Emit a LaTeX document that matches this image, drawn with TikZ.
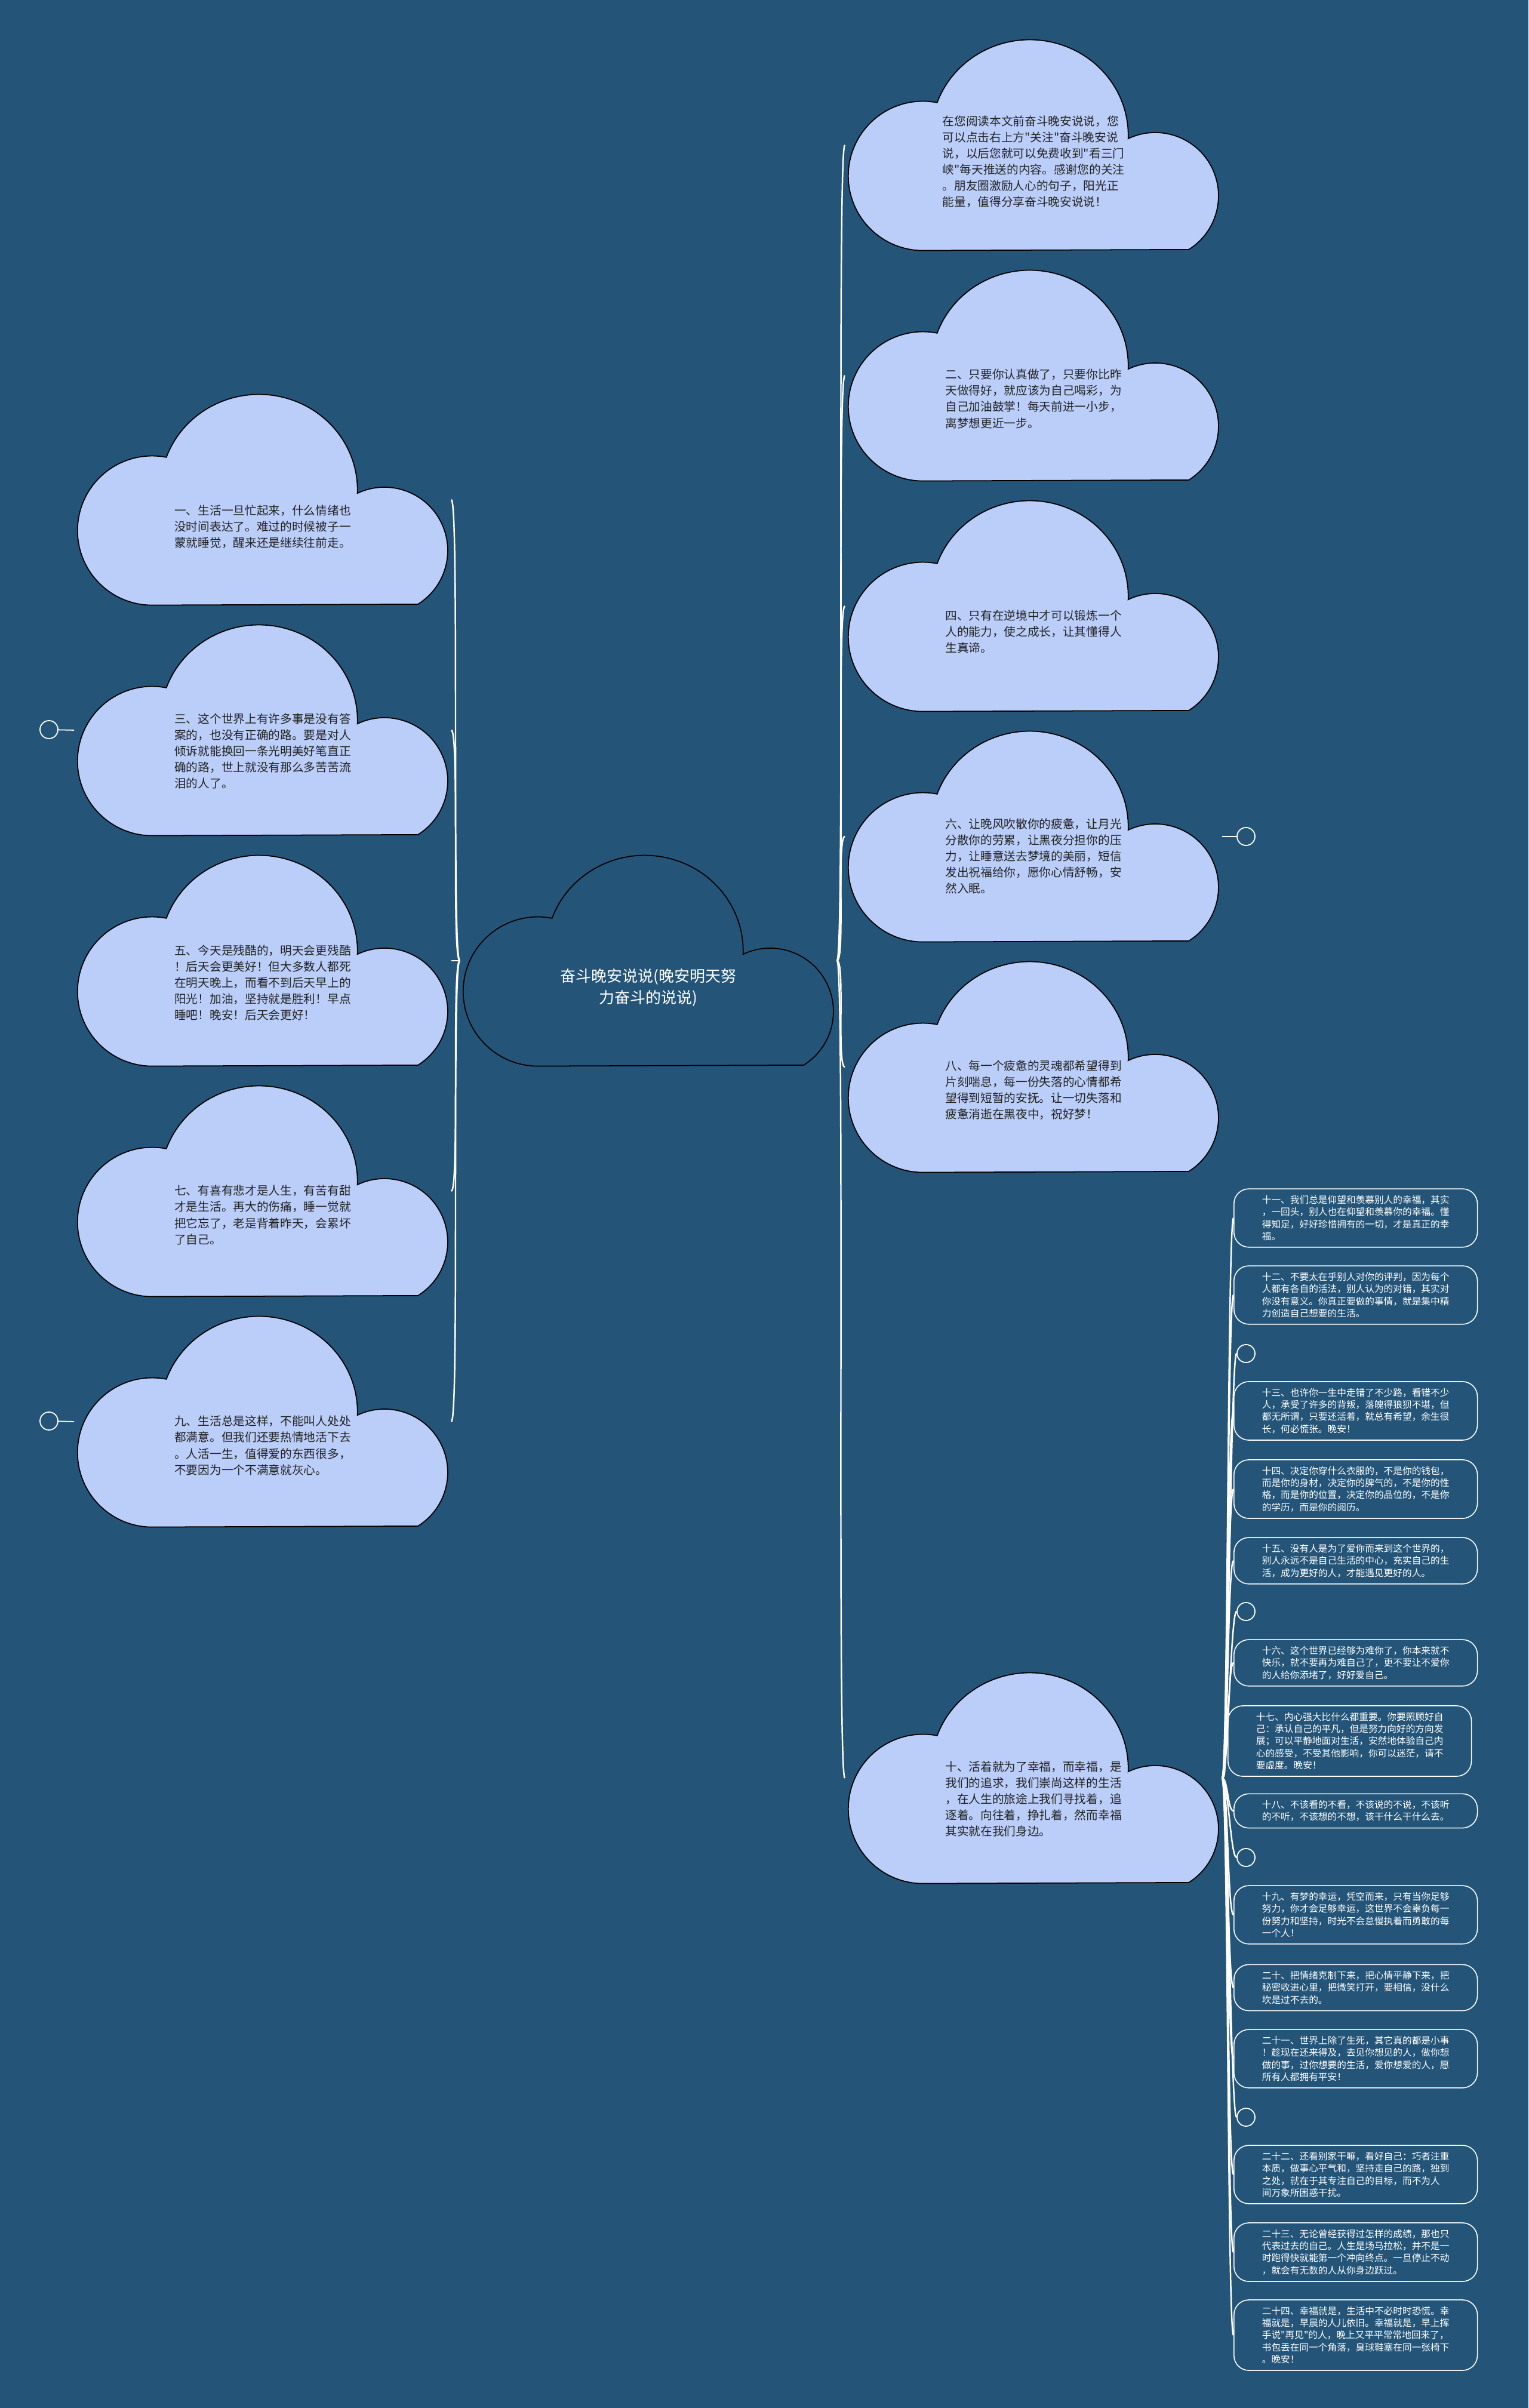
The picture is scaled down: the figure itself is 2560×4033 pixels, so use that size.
\documentclass[tikz,border=0pt]{standalone}
\usepackage{fontspec}
\setmainfont{Noto Sans CJK SC}[Ligatures=TeXOff]
\usetikzlibrary{positioning}
\definecolor{pageblue}{RGB}{36,85,121}
\definecolor{cloudblue}{RGB}{187,206,250}
\definecolor{inkgray}{RGB}{34,34,34}
\tikzset{
  cloudbox/.style={minimum width=6.3cm,minimum height=3.63cm,inner sep=0pt,
    path picture={\filldraw[#1,line width=0.5pt]
      ([shift={(130,5)}]path picture bounding box.south west)
      arc[start angle=270,end angle=79,radius=125]
      arc[start angle=160,end angle=-2,x radius=165,y radius=160]
      arc[start angle=115.3,end angle=-58,radius=106] -- cycle;}},
  cloudbox/.default={fill=cloudblue,draw=black},
  cloudtext/.style={align=left,text=inkgray,inner sep=0pt,
    font=\fontsize{5.6pt}{7.7pt}\selectfont},
  leaf/.style={draw=white,line width=0.45pt,rounded corners=0.25cm,text=white,
    align=left,inner xsep=0.47cm,inner ysep=0.11cm,anchor=west,
    font=\fontsize{4.46pt}{5.8pt}\selectfont},
  fold/.style={circle,draw=white,line width=0.5pt,minimum size=0.3cm,inner sep=0pt},
  link/.style={draw=white,line width=0.7pt},
  stub/.style={draw=white,line width=0.5pt},
}
\begin{document}
\begin{tikzpicture}[x=0.01cm,y=0.01cm]
  \fill[pageblue] (0,0) rectangle (2560,4033);
  \useasboundingbox (0,0) rectangle (2560,4033);
  % centre cloud
  \node[cloudbox={fill=pageblue,draw=black}] (root) at (1086,2424) {};
  \node[cloudtext,align=center,text=white,font=\fontsize{7.4pt}{10.2pt}\selectfont] (roottext)
    at ([yshift=-0.45cm]root.center) {奋斗晚安说说(晚安明天努\\力奋斗的说说)};
  % right clouds
  \node[cloudbox] (r1) at (1731,3790) {};
  \node[cloudtext] (r1t) at ([yshift=-0.28cm]r1.center) {在您阅读本文前奋斗晚安说说，您\\可以点击右上方"关注"奋斗晚安说\\说，以后您就可以免费收到"看三门\\峡"每天推送的内容。感谢您的关注\\。朋友圈激励人心的句子，阳光正\\能量，值得分享奋斗晚安说说！};
  \node[cloudbox] (r2) at (1731,3404) {};
  \node[cloudtext] (r2t) at ([yshift=-0.39cm]r2.center) {二、只要你认真做了，只要你比昨\\天做得好，就应该为自己喝彩，为\\自己加油鼓掌！每天前进一小步，\\离梦想更近一步。};
  \node[cloudbox] (r3) at (1731,3018) {};
  \node[cloudtext] (r3t) at ([yshift=-0.43cm]r3.center) {四、只有在逆境中才可以锻炼一个\\人的能力，使之成长，让其懂得人\\生真谛。};
  \node[cloudbox] (r4) at (1731,2632) {};
  \node[cloudtext] (r4t) at ([yshift=-0.33cm]r4.center) {六、让晚风吹散你的疲惫，让月光\\分散你的劳累，让黑夜分担你的压\\力，让睡意送去梦境的美丽，短信\\发出祝福给你，愿你心情舒畅，安\\然入眠。};
  \node[cloudbox] (r5) at (1731,2246) {};
  \node[cloudtext] (r5t) at ([yshift=-0.39cm]r5.center) {八、每一个疲惫的灵魂都希望得到\\片刻喘息，每一份失落的心情都希\\望得到短暂的安抚。让一切失落和\\疲惫消逝在黑夜中，祝好梦！};
  \node[cloudbox] (r6) at (1731,1055) {};
  \node[cloudtext] (r6t) at ([yshift=-0.35cm]r6.center) {十、活着就为了幸福，而幸福，是\\我们的追求，我们崇尚这样的生活\\，在人生的旅途上我们寻找着，追\\逐着。向往着，挣扎着，然而幸福\\其实就在我们身边。};
  % left clouds
  \node[cloudbox] (l1) at (440,3196) {};
  \node[cloudtext] (l1t) at ([yshift=-0.45cm]l1.center) {一、生活一旦忙起来，什么情绪也\\没时间表达了。难过的时候被子一\\蒙就睡觉，醒来还是继续往前走。};
  \node[cloudbox] (l2) at (440,2810) {};
  \node[cloudtext] (l2t) at ([yshift=-0.35cm]l2.center) {三、这个世界上有许多事是没有答\\案的，也没有正确的路。要是对人\\倾诉就能换回一条光明美好笔直正\\确的路，世上就没有那么多苦苦流\\泪的人了。};
  \node[cloudbox] (l3) at (440,2424) {};
  \node[cloudtext] (l3t) at ([yshift=-0.37cm]l3.center) {五、今天是残酷的，明天会更残酷\\！后天会更美好！但大多数人都死\\在明天晚上，而看不到后天早上的\\阳光！加油，坚持就是胜利！早点\\睡吧！晚安！后天会更好！};
  \node[cloudbox] (l4) at (440,2038) {};
  \node[cloudtext] (l4t) at ([yshift=-0.40cm]l4.center) {七、有喜有悲才是人生，有苦有甜\\才是生活。再大的伤痛，睡一觉就\\把它忘了，老是背着昨天，会累坏\\了自己。};
  \node[cloudbox] (l5) at (440,1652) {};
  \node[cloudtext] (l5t) at ([yshift=-0.40cm]l5.center) {九、生活总是这样，不能叫人处处\\都满意。但我们还要热情地活下去\\。人活一生，值得爱的东西很多，\\不要因为一个不满意就灰心。};
  % folded markers
  \node[fold] (f3) at (82,2811) {};
  \node[fold] (f9) at (82,1653) {};
  \node[fold] (f6) at (2087,2632) {};
  \draw[stub] (f3) -- (l2.west);
  \draw[stub] (f9) -- (l5.west);
  \draw[stub] (r4.east) -- (f6);
  % small items of ten
  \node[leaf] (s11) at (2066,1993) {十一、我们总是仰望和羡慕别人的幸福，其实\\，一回头，别人也在仰望和羡慕你的幸福。懂\\得知足，好好珍惜拥有的一切，才是真正的幸\\福。};
  \node[leaf] (s12) at (2066,1864) {十二、不要太在乎别人对你的评判，因为每个\\人都有各自的活法，别人认为的对错，其实对\\你没有意义。你真正要做的事情，就是集中精\\力创造自己想要的生活。};
  \node[fold] (e1) at (2087,1766) {};
  \node[leaf] (s13) at (2066,1670) {十三、也许你一生中走错了不少路，看错不少\\人，承受了许多的背叛，落魄得狼狈不堪，但\\都无所谓，只要还活着，就总有希望，余生很\\长，何必慌张。晚安！};
  \node[leaf] (s14) at (2066,1539) {十四、决定你穿什么衣服的，不是你的钱包，\\而是你的身材，决定你的脾气的，不是你的性\\格，而是你的位置，决定你的品位的，不是你\\的学历，而是你的阅历。};
  \node[leaf] (s15) at (2066,1419) {十五、没有人是为了爱你而来到这个世界的，\\别人永远不是自己生活的中心，充实自己的生\\活，成为更好的人，才能遇见更好的人。};
  \node[fold] (e2) at (2087,1334) {};
  \node[leaf] (s16) at (2066,1248) {十六、这个世界已经够为难你了，你本来就不\\快乐，就不要再为难自己了，更不要让不爱你\\的人给你添堵了，好好爱自己。};
  \node[leaf] (s17) at (2056,1117) {十七、内心强大比什么都重要。你要照顾好自\\己：承认自己的平凡，但是努力向好的方向发\\展；可以平静地面对生活，安然地体验自己内\\心的感受，不受其他影响，你可以迷茫，请不\\要虚度。晚安！};
  \node[leaf] (s18) at (2066,1000) {十八、不该看的不看，不该说的不说，不该听\\的不听，不该想的不想，该干什么干什么去。};
  \node[fold] (e3) at (2087,922) {};
  \node[leaf] (s19) at (2066,826) {十九、有梦的幸运，凭空而来，只有当你足够\\努力，你才会足够幸运，这世界不会辜负每一\\份努力和坚持，时光不会怠慢执着而勇敢的每\\一个人！};
  \node[leaf] (s20) at (2066,704) {二十、把情绪克制下来，把心情平静下来，把\\秘密收进心里，把微笑打开，要相信，没什么\\坎是过不去的。};
  \node[leaf] (s21) at (2066,585) {二十一、世界上除了生死，其它真的都是小事\\！趁现在还来得及，去见你想见的人，做你想\\做的事，过你想要的生活，爱你想爱的人，愿\\所有人都拥有平安！};
  \node[fold] (e4) at (2087,487) {};
  \node[leaf] (s22) at (2066,391) {二十二、还看别家干嘛，看好自己：巧者注重\\本质，做事心平气和，坚持走自己的路，独到\\之处，就在于其专注自己的目标，而不为人\\间万象所困惑干扰。};
  \node[leaf] (s23) at (2066,261) {二十三、无论曾经获得过怎样的成绩，那也只\\代表过去的自己。人生是场马拉松，并不是一\\时跑得快就能第一个冲向终点。一旦停止不动\\，就会有无数的人从你身边跃过。};
  \node[leaf] (s24) at (2066,122) {二十四、幸福就是，生活中不必时时恐慌。幸\\福就是，早晨的人儿依旧。幸福就是，早上挥\\手说"再见"的人，晚上又平平常常地回来了，\\书包丢在同一个角落，臭球鞋塞在同一张椅下\\。晚安！};
  % connectors
  \foreach \c in {r1,r2,r3,r4,r5,r6}
    \draw[link] (root.east) .. controls +(14,0) and +(-14,0) .. (\c.west);
  \foreach \c in {l1,l2,l3,l4,l5}
    \draw[link] (root.west) .. controls +(-14,0) and +(14,0) .. (\c.east);
  \foreach \c in {s11,s12,e1,s13,s14,s15,e2,s16,s17,s18,e3,s19,s20,s21,e4,s22,s23,s24}
    \draw[link] (r6.east) .. controls +(10,0) and +(-10,0) .. (\c.west);
\end{tikzpicture}
\end{document}
